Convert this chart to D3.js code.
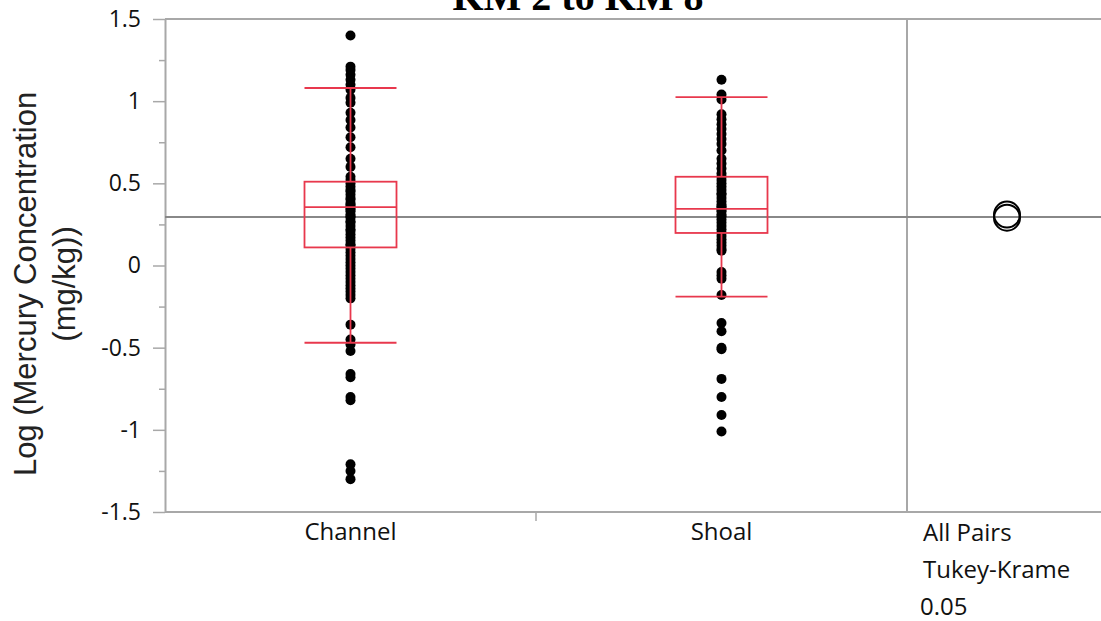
<!DOCTYPE html>
<html>
<head>
<meta charset="utf-8">
<script src="https://cdn.jsdelivr.net/npm/d3@7"></script>
<style>
  body { margin: 0; background: #fff; }
  svg { display: block; }
  .tick text { font-family: "Open Sans", sans-serif; fill: #111; }
</style>
</head>
<body>
<div id="chart"></div>
<script>
// groups + box stats
const groups = ["Channel", "Shoal"];
const q1 = [0.11, 0.198];
const medians = [0.355, 0.345];
const q3 = [0.51, 0.54];
const whiskLo = [-0.47, -0.19];
const whiskHi = [1.08, 1.025];
const groupMeans = [0.291, 0.31];
const grandMean = 0.295;

// individual observations (log mg/kg)
const channelVals = [1.40, 1.21, 1.19, 1.16, 1.13, 1.10, 1.07, 1.02, 0.99, 0.93, 0.885, 0.84, 0.78,
    0.72, 0.65, 0.60, 0.54, 0.52, 0.50, 0.48, 0.46, 0.45, 0.43, 0.41, 0.40, 0.38, 0.37, 0.36,
    0.35, 0.34, 0.33, 0.31, 0.30, 0.29, 0.27, 0.26, 0.24, 0.22, 0.21, 0.19, 0.17, 0.15, 0.13,
    0.12, 0.10, 0.08, 0.06, 0.04, 0.02, 0.00, -0.02, -0.04, -0.06, -0.08, -0.10, -0.12, -0.14,
    -0.16, -0.18, -0.20, -0.36, -0.45, -0.48, -0.52, -0.66, -0.68, -0.80, -0.82, -1.21, -1.25, -1.30];
const shoalVals = [1.13, 1.04, 1.01, 0.92, 0.89, 0.86, 0.83, 0.80, 0.77, 0.74, 0.70, 0.65, 0.62,
    0.59, 0.56, 0.54, 0.52, 0.50, 0.48, 0.46, 0.44, 0.43, 0.41, 0.39, 0.37, 0.36, 0.35, 0.34,
    0.33, 0.31, 0.30, 0.28, 0.26, 0.24, 0.22, 0.20, 0.18, 0.16, 0.14, 0.12, 0.10, 0.09, -0.04,
    -0.06, -0.08, -0.18, -0.35, -0.40, -0.50, -0.51, -0.69, -0.80, -0.91, -1.01];
const pointSets = [channelVals, shoalVals];

const yTicks = [-1.5, -1, -0.5, 0, 0.5, 1, 1.5];
const yMinor = [-1.25, -0.75, -0.25, 0.25, 0.75, 1.25];
const compLabels = ["All Pairs", "Tukey-Krame", "0.05"];

const W = 1101, H = 621;
const plotL = 165, plotR = 907, plotT = 19, plotB = 512;
const red = "#e8384d";
const axisGray = "#a8a8a8";

const svg = d3.select("#chart").append("svg")
    .attr("width", W).attr("height", H);

const y = d3.scaleLinear().domain([-1.5, 1.5]).range([plotB, plotT]);
const x = d3.scaleBand().domain(groups).range([plotL, plotR]).padding(0);
const xc = g => x(g) + x.bandwidth() / 2;

// frame lines
svg.append("line").attr("x1", plotL).attr("x2", W).attr("y1", plotT).attr("y2", plotT)
    .attr("stroke", axisGray).attr("stroke-width", 2);
svg.append("line").attr("x1", plotR).attr("x2", plotR).attr("y1", plotT).attr("y2", plotB)
    .attr("stroke", axisGray).attr("stroke-width", 2);

// y axis (plain hyphen minus like JMP)
const yAxis = svg.append("g").attr("transform", `translate(${plotL},0)`)
    .call(d3.axisLeft(y).tickValues(yTicks).tickSize(12).tickPadding(12)
        .tickFormat(d => String(d)).tickSizeOuter(0));
yAxis.select(".domain").attr("stroke", axisGray).attr("stroke-width", 2);
yAxis.selectAll(".tick line").attr("stroke", axisGray).attr("stroke-width", 1.5);
yAxis.selectAll(".tick text").style("font-size", "23px");
svg.append("g").attr("transform", `translate(${plotL},0)`)
    .call(d3.axisLeft(y).tickValues(yMinor).tickSize(6).tickFormat("").tickSizeOuter(0))
    .call(g => g.select(".domain").remove())
    .selectAll("line").attr("stroke", axisGray).attr("stroke-width", 1.5);

// x axis
const xAxis = svg.append("g").attr("transform", `translate(0,${plotB})`)
    .call(d3.axisBottom(x).tickSize(0).tickPadding(11).tickSizeOuter(0));
xAxis.select(".domain").remove();
xAxis.selectAll(".tick text").style("font-size", "24px");
svg.append("line").attr("x1", plotL).attr("x2", W).attr("y1", plotB).attr("y2", plotB)
    .attr("stroke", axisGray).attr("stroke-width", 2);
svg.append("line").attr("x1", x("Shoal")).attr("x2", x("Shoal"))
    .attr("y1", plotB).attr("y2", plotB + 9)
    .attr("stroke", axisGray).attr("stroke-width", 1.5);

// grand mean line
svg.append("line").attr("x1", plotL).attr("x2", W)
    .attr("y1", y(grandMean)).attr("y2", y(grandMean))
    .attr("stroke", "#888").attr("stroke-width", 2);

// points
pointSets.forEach((vals, i) => {
    svg.append("g").selectAll("circle").data(vals).join("circle")
        .attr("cx", xc(groups[i]))
        .attr("cy", d => y(d))
        .attr("r", 5)
        .attr("fill", "#000");
});

// box plots
const halfW = 46;
groups.forEach((g, i) => {
    const cx = xc(g);
    const bx = svg.append("g").attr("stroke", red).attr("stroke-width", 1.8).attr("fill", "none");
    bx.append("line").attr("x1", cx).attr("x2", cx).attr("y1", y(whiskHi[i])).attr("y2", y(q3[i]));
    bx.append("line").attr("x1", cx).attr("x2", cx).attr("y1", y(q1[i])).attr("y2", y(whiskLo[i]));
    bx.append("line").attr("x1", cx - halfW).attr("x2", cx + halfW).attr("y1", y(whiskHi[i])).attr("y2", y(whiskHi[i]));
    bx.append("line").attr("x1", cx - halfW).attr("x2", cx + halfW).attr("y1", y(whiskLo[i])).attr("y2", y(whiskLo[i]));
    bx.append("rect").attr("x", cx - halfW).attr("width", halfW * 2)
        .attr("y", y(q3[i])).attr("height", y(q1[i]) - y(q3[i]));
    bx.append("line").attr("x1", cx - halfW).attr("x2", cx + halfW).attr("y1", y(medians[i])).attr("y2", y(medians[i]));
});

// comparison circles
const compX = 1007;
svg.append("g").selectAll("circle").data(groupMeans).join("circle")
    .attr("cx", compX).attr("cy", d => y(d)).attr("r", 13)
    .attr("fill", "none").attr("stroke", "#000").attr("stroke-width", 2);

svg.append("g").selectAll("text").data(compLabels).join("text")
    .attr("x", (d, i) => i === 2 ? 920 : 923)
    .attr("y", (d, i) => 541 + i * 37)
    .attr("font-family", "Open Sans, sans-serif").attr("font-size", "24px").attr("fill", "#111")
    .text(d => d);

// y title
const yt = svg.append("text").attr("transform", "translate(0,284) rotate(-90)")
    .attr("text-anchor", "middle").attr("font-family", "Liberation Sans, Arial, sans-serif")
    .attr("font-size", "31px").attr("fill", "#222");
yt.append("tspan").attr("x", 0).attr("y", 36).text("Log (Mercury Concentration");
yt.append("tspan").attr("x", 0).attr("y", 75).text("(mg/kg))");

// title (clipped at top in the original)
svg.append("text").attr("x", 578).attr("y", 10).attr("text-anchor", "middle")
    .attr("font-family", "Liberation Serif, Times New Roman, serif").attr("font-weight", "bold")
    .attr("font-size", "40px").attr("fill", "#000")
    .text("KM 2 to KM 8");
</script>
</body>
</html>
